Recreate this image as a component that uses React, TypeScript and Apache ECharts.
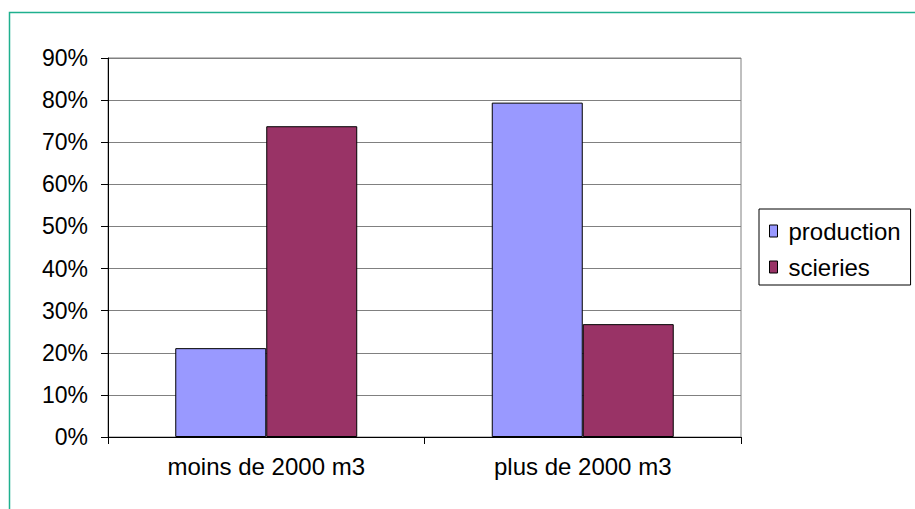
import React, { useEffect, useRef } from "react";
import * as echarts from "echarts";

const categories = ["moins de 2000 m3", "plus de 2000 m3"];
const production = [21.1, 79.4];
const scieries = [73.8, 26.8];
const seriesNames = ["production", "scieries"];

export default function App() {
  const ref = useRef<HTMLDivElement>(null);
  useEffect(() => {
    if (!ref.current) return;
    const chart = echarts.init(ref.current, undefined, { renderer: "svg" });
    const font = "Liberation Sans, Arial, sans-serif";
    chart.setOption({
      animation: false,
      backgroundColor: "#ffffff",
      graphic: [
        {
          type: "rect",
          shape: { x: 9.5, y: 12.5, width: 1200, height: 1200 },
          style: { fill: "none", stroke: "#1fb08e", lineWidth: 1.5 },
          silent: true,
        },
      ],
      grid: {
        left: 108,
        right: 174,
        top: 58,
        bottom: 72,
        show: true,
        borderColor: "#808080",
        borderWidth: 1,
        backgroundColor: "transparent",
      },
      legend: {
        orient: "vertical",
        left: 759,
        top: 209,
        padding: [10, 10, 6, 10],
        itemGap: 12,
        itemWidth: 8,
        itemHeight: 12,
        icon: "rect",
        borderColor: "#000",
        borderWidth: 1,
        textStyle: { fontFamily: font, fontSize: 24, color: "#000", padding: [0, 0, 0, 6] },
        itemStyle: { borderColor: "#000", borderWidth: 1 },
        data: seriesNames,
      },
      xAxis: {
        type: "category",
        data: categories,
        boundaryGap: true,
        axisLine: { lineStyle: { color: "#000", width: 1 } },
        axisTick: { show: true, length: 7, lineStyle: { color: "#000" } },
        axisLabel: { fontFamily: font, fontSize: 24, color: "#000", margin: 17 },
        splitLine: { show: false },
      },
      yAxis: {
        type: "value",
        min: 0,
        max: 90,
        interval: 10,
        axisLine: { show: true, lineStyle: { color: "#000", width: 1 } },
        axisTick: { show: true, length: 7, lineStyle: { color: "#000" } },
        axisLabel: { fontFamily: font, fontSize: 23, color: "#000", margin: 20, formatter: "{value}%" },
        splitLine: { show: true, lineStyle: { color: "#808080", width: 1 } },
      },
      series: [
        {
          name: seriesNames[0],
          type: "bar",
          data: production,
          barGap: "0%",
          barCategoryGap: "42.5%",
          itemStyle: { color: "#9999ff", borderColor: "#000", borderWidth: 1 },
        },
        {
          name: seriesNames[1],
          type: "bar",
          data: scieries,
          barGap: "0%",
          barCategoryGap: "42.5%",
          itemStyle: { color: "#993366", borderColor: "#000", borderWidth: 1 },
        },
      ],
    });
    return () => chart.dispose();
  }, []);
  return (
    <div
      ref={ref}
      style={{ position: "fixed", left: 0, top: 0, width: 915, height: 509, background: "#fff" }}
    />
  );
}
